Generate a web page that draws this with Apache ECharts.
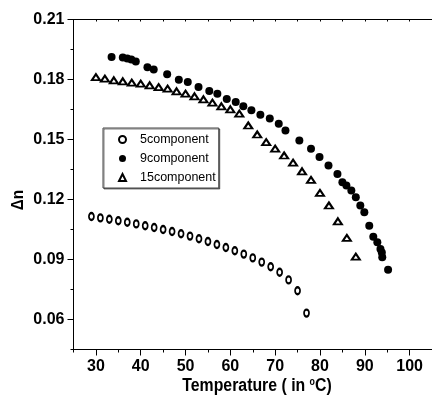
<!DOCTYPE html>
<html>
<head>
<meta charset="utf-8">
<script src="https://cdn.jsdelivr.net/npm/echarts@6/dist/echarts.min.js"></script>
<style>
  html, body { margin: 0; padding: 0; background: #fff; }
  #chart { width: 432px; height: 401px; }
</style>
</head>
<body>
<div id="chart"></div>
<script>
// Birefringence (Δn) versus temperature for three mixtures
const temp5 = [29, 31, 33, 35, 37, 39, 41, 43, 45, 47, 49, 51, 53, 55, 57, 59, 61, 63, 65, 67, 69, 71, 73, 75, 77];
const dn5 = [0.1115, 0.1108, 0.1101, 0.1094, 0.1086, 0.1078, 0.1069, 0.1060, 0.1050, 0.1040, 0.1029, 0.1017, 0.1004,
             0.0990, 0.0975, 0.0960, 0.0944, 0.0927, 0.0908, 0.0887, 0.0864, 0.0836, 0.0798, 0.0744, 0.0632];

const temp9 = [33.5, 36.0, 37.0, 37.9, 38.9, 41.5, 42.9, 45.9, 48.5, 50.5, 52.9, 55.3, 57.1, 59.2, 61.2, 62.9, 64.7,
               66.7, 68.8, 70.8, 72.3, 75.4, 78.0, 79.9, 81.9, 83.9, 85.0, 85.9, 87.0, 88.0, 89.0, 89.9, 91.0, 91.9,
               92.8, 93.5, 93.8, 93.9, 95.2];
const dn9 = [0.1913, 0.1910, 0.1905, 0.1900, 0.1890, 0.1861, 0.1850, 0.1826, 0.1799, 0.1787, 0.1762, 0.1742, 0.1729,
             0.1702, 0.1687, 0.1666, 0.1646, 0.1624, 0.1605, 0.1579, 0.1545, 0.1495, 0.1454, 0.1412, 0.1370, 0.1328,
             0.1286, 0.1270, 0.1245, 0.1211, 0.1170, 0.1136, 0.1069, 0.1014, 0.0986, 0.0953, 0.0935, 0.0911, 0.0849];

const temp15 = [30, 32, 34, 36, 38, 40, 42, 44, 46, 48, 50, 52, 54, 56, 58, 60, 62, 64, 66, 68, 70, 72, 74, 76, 78,
                80, 82, 84, 86, 88];
const dn15 = [0.1812, 0.1804, 0.1796, 0.1791, 0.1784, 0.1779, 0.1771, 0.1762, 0.1754, 0.1741, 0.1729, 0.1716, 0.1701,
              0.1684, 0.1666, 0.1651, 0.1629, 0.1570, 0.1525, 0.1487, 0.1454, 0.1420, 0.1384, 0.1341, 0.1298, 0.1233,
              0.1170, 0.1091, 0.1008, 0.0914];

const seriesNames = ['5component', '9component', '15component'];

const xMajor = [30, 40, 50, 60, 70, 80, 90, 100];
const xMinor = [25, 35, 45, 55, 65, 75, 85, 95, 105];
const yMajor = [0.06, 0.09, 0.12, 0.15, 0.18, 0.21];
const yMinor = [0.045, 0.075, 0.105, 0.135, 0.165, 0.195];

const FONT = '"Liberation Sans", Arial, sans-serif';
const pairs = (xs, ys) => xs.map((x, i) => [x, ys[i]]);
const allX = xMinor.concat(xMajor).sort((a, b) => a - b);

const chart = echarts.init(document.getElementById('chart'), null, { renderer: 'canvas' });

const axisLine = { show: true, onZero: false, lineStyle: { color: '#000', width: 1 } };
const noSplit = { show: false };

chart.setOption({
  animation: false,
  backgroundColor: '#fff',
  grid: { left: 73.5, top: 19.5, right: -2.3, bottom: 51.5, containLabel: false },
  xAxis: [
    {
      type: 'value', min: 25, max: 105, interval: 5, position: 'bottom',
      axisLine: axisLine,
      axisTick: { show: true, inside: false, length: 6, customValues: xMajor, lineStyle: { color: '#000' } },
      axisLabel: { customValues: xMajor, color: '#000', fontFamily: FONT, fontWeight: 'bold', fontSize: 16, margin: 9 },
      splitLine: noSplit
    },
    {
      type: 'value', min: 25, max: 105, interval: 5, position: 'bottom',
      axisLine: { show: false },
      axisTick: { show: true, inside: false, length: 3, customValues: xMinor, lineStyle: { color: '#000' } },
      axisLabel: { show: false },
      splitLine: noSplit
    },
    {
      type: 'value', min: 25, max: 105, interval: 5, position: 'top',
      axisLine: axisLine,
      axisTick: { show: true, inside: true, length: 2, customValues: allX, lineStyle: { color: '#000' } },
      axisLabel: { show: false },
      splitLine: noSplit
    }
  ],
  yAxis: [
    {
      type: 'value', min: 0.045, max: 0.21, interval: 0.015, position: 'left',
      axisLine: axisLine,
      axisTick: { show: true, inside: false, length: 6, customValues: yMajor, lineStyle: { color: '#000' } },
      axisLabel: {
        customValues: yMajor, color: '#000', fontFamily: FONT, fontWeight: 'bold', fontSize: 16, margin: 9,
        formatter: v => v.toFixed(2)
      },
      splitLine: noSplit
    },
    {
      type: 'value', min: 0.045, max: 0.21, interval: 0.015, position: 'left',
      axisLine: { show: false },
      axisTick: { show: true, inside: false, length: 3, customValues: yMinor, lineStyle: { color: '#000' } },
      axisLabel: { show: false },
      splitLine: noSplit
    }
  ],
  legend: {
    orient: 'vertical',
    left: 103, top: 128,
    padding: [4, 3, 3, 15],
    itemGap: 4,
    itemWidth: 7, itemHeight: 7,
    borderColor: '#444', borderWidth: 1,
    backgroundColor: '#fff',
    shadowColor: 'rgba(0,0,0,0.5)', shadowOffsetX: 1, shadowOffsetY: 1, shadowBlur: 0,
    textStyle: { color: '#000', fontFamily: FONT, fontSize: 12.5, lineHeight: 15, padding: [0, 0, 0, 9] },
    data: seriesNames
  },
  series: [
    {
      name: seriesNames[0], type: 'scatter', xAxisIndex: 0, yAxisIndex: 0,
      symbol: 'emptyCircle', symbolSize: [5, 7],
      itemStyle: { color: '#000', borderColor: '#000', borderWidth: 0.8, opacity: 1 },
      data: pairs(temp5, dn5)
    },
    {
      name: seriesNames[1], type: 'scatter', xAxisIndex: 0, yAxisIndex: 0,
      symbol: 'circle', symbolSize: 8,
      itemStyle: { color: '#000', opacity: 1 },
      data: pairs(temp9, dn9)
    },
    {
      name: seriesNames[2], type: 'scatter', xAxisIndex: 0, yAxisIndex: 0,
      symbol: 'emptyTriangle', symbolSize: [8, 6],
      itemStyle: { color: '#000', borderColor: '#000', borderWidth: 0.8, opacity: 1 },
      data: pairs(temp15, dn15)
    }
  ],
  graphic: [
    {
      type: 'text', x: 257, y: 386, scaleX: 0.88,
      style: {
        text: 'Temperature ( in {sup|o}C)',
        fontFamily: FONT, fontWeight: 'bold', fontSize: 18, fill: '#000',
        align: 'center', verticalAlign: 'middle',
        rich: { sup: { fontFamily: FONT, fontSize: 10, fontWeight: 'bold', verticalAlign: 'top', fill: '#000' } }
      }
    },
    {
      type: 'text', x: 18, y: 200, rotation: Math.PI / 2, scaleX: 0.9,
      style: {
        text: 'Δn', fontFamily: FONT, fontWeight: 'bold', fontSize: 17, fill: '#000',
        align: 'center', verticalAlign: 'middle'
      }
    }
  ]
});
</script>
</body>
</html>
